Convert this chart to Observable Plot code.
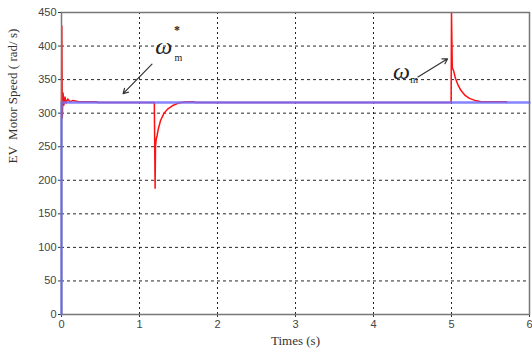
<!DOCTYPE html>
<html><head><meta charset="utf-8">
<script src="https://cdn.jsdelivr.net/npm/d3@7"></script>
<script src="https://cdn.jsdelivr.net/npm/@observablehq/plot@0.6"></script>
<style>body{margin:0;background:#fff}</style>
</head><body><div id="chart"></div>
<script>
const xTicks = [0,1,2,3,4,5,6];
const yTicks = [0,50,100,150,200,250,300,350,400,450];
const refT = [0, 0, 6];
const refV = [0, 316, 316];
const actT = [0, 0.004, 0.01, 0.02, 0.03, 0.045, 0.06, 0.08, 0.11, 0.15, 0.22, 0.3, 0.45, 0.46,
  1.19, 1.2, 1.205, 1.215, 1.225, 1.24, 1.27, 1.31, 1.36, 1.42, 1.5, 1.6, 1.7, 1.71,
  4.995, 5.0, 5.01, 5.03, 5.05, 5.08, 5.12, 5.17, 5.23, 5.3, 5.38, 5.48, 5.6, 5.7, 5.71];
const actV = [316, 430, 293, 330, 312, 324, 315, 321, 317, 319, 317, 317, 317, 316,
  316, 188, 250, 262, 266, 276, 289, 299, 306, 311, 315, 317, 317, 316,
  316, 450, 368, 362, 352, 343, 334, 327, 322, 319, 317, 317, 317, 317, 316];
const labelT = [1.31, 4.36];
const labelV = [400, 363];
const labelText = ["ω", "ω"];
const supT = [1.48]; const supV = [424]; const supText = ["*"];
const subT = [1.5, 4.52]; const subV = [382, 350]; const subText = ["m", "m"];
const arrowFromT = [1.16, 4.57]; const arrowFromV = [373, 354];
const arrowToT = [0.79, 4.95]; const arrowToV = [329, 381];

const ref = refT.map((t,i)=>({t, v: refV[i]}));
const act = actT.map((t,i)=>({t, v: actV[i]}));
const labels = labelT.map((t,i)=>({t, v: labelV[i], s: labelText[i]}));
const sups = supT.map((t,i)=>({t, v: supV[i], s: supText[i]}));
const subs = subT.map((t,i)=>({t, v: subV[i], s: subText[i]}));
const arrows = arrowFromT.map((t,i)=>({t1: t, v1: arrowFromV[i], t2: arrowToT[i], v2: arrowToV[i]}));

const chart = Plot.plot({
  width: 532, height: 354,
  marginLeft: 61, marginRight: 3, marginTop: 12, marginBottom: 40,
  style: {fontFamily: "Arial, 'Liberation Sans', sans-serif", fontSize: "11px", color: "#333"},
  x: {domain: [0, 6], ticks: xTicks, tickFormat: d => d, label: null},
  y: {domain: [0, 450], ticks: yTicks, tickFormat: d => d, label: null},
  marks: [
    Plot.gridY(yTicks, {stroke: "#000", strokeOpacity: 0.85, strokeDasharray: "3,3"}),
    Plot.gridX(xTicks, {stroke: "#000", strokeOpacity: 0.85, strokeDasharray: "2,3"}),
    Plot.axisX(xTicks, {tickSize: 3, tickPadding: 3, fill: "#444", stroke: "#333"}),
    Plot.axisY(yTicks, {tickSize: 3, tickPadding: 2, fill: "#444", stroke: "#333"}),
    Plot.line(act, {x: "t", y: "v", stroke: "#ff1010", strokeWidth: 1.5, curve: "linear"}),
    Plot.line(ref, {x: "t", y: "v", stroke: "#7070ff", strokeOpacity: 0.85, strokeWidth: 2.5, curve: "linear"}),
    Plot.frame({stroke: "#777", strokeWidth: 1.5}),
    Plot.arrow(arrows, {x1: "t1", y1: "v1", x2: "t2", y2: "v2", stroke: "#333", strokeWidth: 1.2, headLength: 7}),
    Plot.text(labels, {x: "t", y: "v", text: "s", fontSize: 24, fontStyle: "italic", fontFamily: "'Liberation Serif', serif", fill: "#222"}),
    Plot.text(sups, {x: "t", y: "v", text: "s", fontSize: 12, fontWeight: "bold", fontFamily: "'Liberation Serif', serif", fill: "#222"}),
    Plot.text(subs, {x: "t", y: "v", text: "s", fontSize: 10, fontFamily: "'Liberation Serif', serif", fill: "#222"}),
    Plot.text(["Times (s)"], {frameAnchor: "bottom", dy: 30, fontSize: 13, fontFamily: "'Liberation Serif', serif", fill: "#333"}),
    Plot.text(["EV  Motor Speed ( rad/ s)"], {frameAnchor: "left", dx: -49, rotate: -90, fontSize: 13, fontFamily: "'Liberation Serif', serif", fill: "#333"})
  ]
});
document.getElementById("chart").append(chart);
</script>
</body></html>
